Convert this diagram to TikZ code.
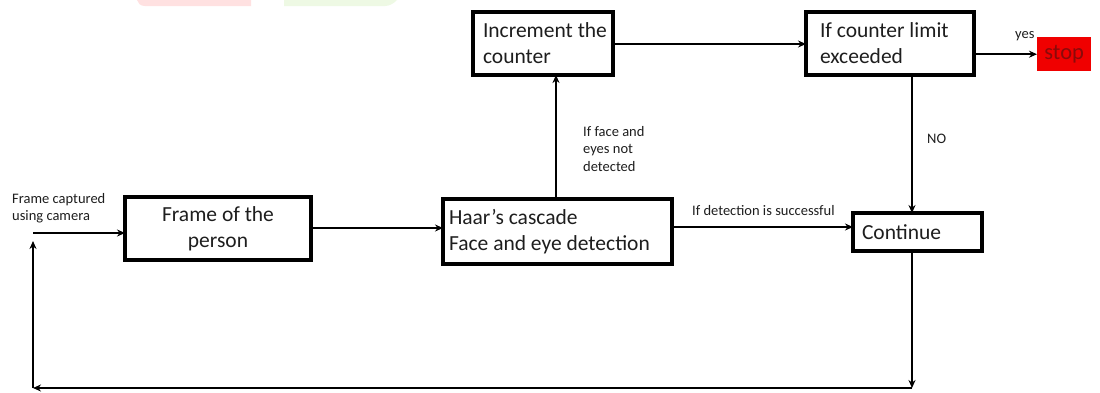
\documentclass[tikz,border=0pt]{standalone}
\usepackage{fontspec}
\setmainfont{Carlito}
\usetikzlibrary{arrows.meta}
\definecolor{ink}{HTML}{1E1E1E}
\definecolor{stopred}{HTML}{F00000}
\definecolor{stoptext}{HTML}{8A0A0A}
\definecolor{wmpink}{HTML}{FFE1E1}
\definecolor{wmgreen}{HTML}{EEF9E4}
\tikzset{
  box/.style={draw=black, line width=3.2pt, inner sep=0pt, outer sep=0pt,
              text=ink, font=\fontsize{21.5}{26}\selectfont},
  lbox/.style={box, align=flush left, text width=#1, minimum width=#1},
  cbox/.style={box, align=center},
  arr/.style={draw=black, line width=2pt, -{Stealth[length=8pt,width=7pt]}},
  lab/.style={text=ink, font=\fontsize{14.5}{17.5}\selectfont, align=flush left, inner sep=0pt}
}
\begin{document}
\begin{tikzpicture}[x=1pt,y=-1pt]
\useasboundingbox (0,0) rectangle (1100,392);
\fill[white] (0,0) rectangle (1100,392);
% faint header marks along the top edge
\fill[wmpink] (137,0) -- (251,0) -- (251,6) -- (145,6) .. controls (140,6) and (138,3) .. (137,0) -- cycle;
\fill[wmgreen] (284,0) -- (397,0) .. controls (394,3) and (390,6) .. (385,6) -- (284,6) -- cycle;

% process boxes
\node[lbox=140pt, minimum height=63pt, anchor=north west] (inc) at (473,12)
  {\hspace*{10pt}Increment the\\\hspace*{10pt}counter};
\node[lbox=168pt, minimum height=63pt, anchor=north west] (lim) at (806,12)
  {\hspace*{14pt}If counter limit\\\hspace*{14pt}exceeded};
\node[draw=none, fill=stopred, text=stoptext, font=\fontsize{22.5}{26}\selectfont,
      minimum width=54pt, minimum height=34pt, inner sep=0pt, anchor=north west] (stop) at (1037,37) {stop};
\node[cbox, minimum width=186pt, minimum height=63pt, anchor=north west] (frame) at (125,197)
  {Frame of the\\person};
\node[lbox=229pt, minimum height=65pt, anchor=north west] (haar) at (443,199)
  {\hspace*{6pt}Haar{\char"27}s cascade\\\hspace*{6pt}Face and eye detection};
\node[lbox=129pt, minimum height=38pt, anchor=north west] (cont) at (853,213)
  {\hspace*{9pt}Continue};

% loop-back path coordinates
\coordinate (loopR) at (912,388);
\coordinate (loopL) at (33,388);
\coordinate (loopTop) at (33,241);
\coordinate (inStart) at (33,233);

% connectors
\draw[arr] (inStart) -- (frame.west |- inStart);
\draw[arr] (frame.east |- 0,228) -- (haar.west |- 0,228);
\draw[arr] (haar.east |- 0,227) -- (cont.west |- 0,227);
\draw[arr] (haar.north -| 556,0) -- (inc.south -| 556,0);
\draw[arr] (inc.east |- 0,44) -- (lim.west |- 0,44);
\draw[arr] (lim.east |- stop.west) -- (stop.west);
\draw[arr] (lim.south -| 912,0) -- (cont.north -| 912,0);
\draw[arr] (cont.south -| 912,0) -- (loopR);
\draw[arr] (loopR) -- (loopL);
\draw[arr] (loopL) -- (loopTop);

% labels
\node[lab, anchor=north west] (capt) at (12,193) {Frame captured\\using camera};
\node[lab, anchor=north west] (notdet) at (583,126) {If face and\\eyes not\\detected};
\node[lab, anchor=north west] (succ) at (692,205) {If detection is successful};
\node[lab, anchor=north west] (yes) at (1015,31) {yes};
\node[lab, anchor=north west] (no) at (927,134) {NO};
\end{tikzpicture}
\end{document}
